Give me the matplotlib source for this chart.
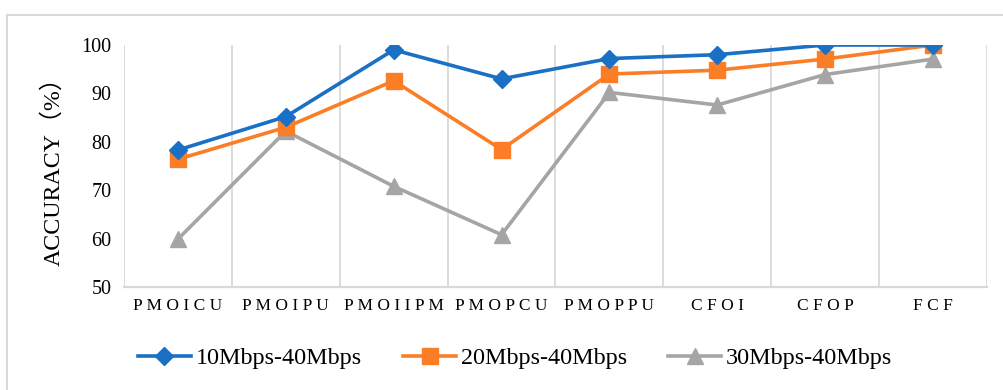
import numpy as np
import matplotlib.pyplot as plt
from matplotlib.lines import Line2D

# Accuracy per method, for each bandwidth range
methods = ['PMOICU', 'PMOIPU', 'PMOIIPM', 'PMOPCU', 'PMOPPU', 'CFOI', 'CFOP', 'FCF']
acc_10_40 = [78.3, 85.2, 99.0, 93.0, 97.2, 98.0, 100.0, 100.0]
acc_20_40 = [76.4, 83.0, 92.6, 78.4, 94.0, 94.8, 97.1, 100.0]
acc_30_40 = [59.9, 82.2, 70.8, 60.8, 90.2, 87.6, 93.9, 97.1]
series_names = ['10Mbps-40Mbps', '20Mbps-40Mbps', '30Mbps-40Mbps']

plt.rcParams['font.family'] = ['Liberation Serif', 'Noto Sans CJK SC']

fig = plt.figure(figsize=(10.04, 3.9), dpi=100)
ax = fig.add_axes([124/1004, 1-287/390, (987-124)/1004, (287-45)/390])

x = np.arange(len(methods))
grid_c = '#d9d9d9'

ax.plot(x, acc_10_40, color='#1a70c4', lw=2.6, marker='D', ms=9, label=series_names[0], zorder=4)
ax.plot(x, acc_20_40, color='#fb7e27', lw=2.6, marker='s', ms=11, label=series_names[1], zorder=3)
ax.plot(x, acc_30_40, color='#a5a5a5', lw=2.6, marker='^', ms=11, label=series_names[2], zorder=2)

# vertical grid on the category boundaries
for b in np.arange(-0.5, len(methods), 1.0):
    ax.axvline(b, color=grid_c, lw=1.3, zorder=0)

ax.set_xlim(-0.5, len(methods) - 0.5)
ax.set_ylim(50, 100)
ax.set_yticks(np.arange(50, 101, 10))
ax.set_xticks(x)
ax.set_xticklabels([' '.join(m) for m in methods], fontsize=12.5)
ax.tick_params(axis='y', labelsize=14.5, length=0, pad=9)
ax.tick_params(axis='x', length=0, pad=8)

for s in ['top', 'right', 'left']:
    ax.spines[s].set_visible(False)
ax.spines['bottom'].set_color(grid_c)
ax.spines['bottom'].set_linewidth(1.6)

ax.set_ylabel('ACCURACY（%）', fontsize=17.2, labelpad=12)

fig.legend(loc='center', bbox_to_anchor=(0.513, 1-358/390), ncol=3, frameon=False,
           fontsize=17.4, handlelength=2.2, columnspacing=1.7, handletextpad=0.2)

# outer chart frame
fig.add_artist(Line2D([7/1004, 7/1004], [0, 1-15/390], color=grid_c, lw=1.5))
fig.add_artist(Line2D([7/1004, 1], [1-15/390, 1-15/390], color=grid_c, lw=1.5))

fig.savefig('out.png', dpi=100)
